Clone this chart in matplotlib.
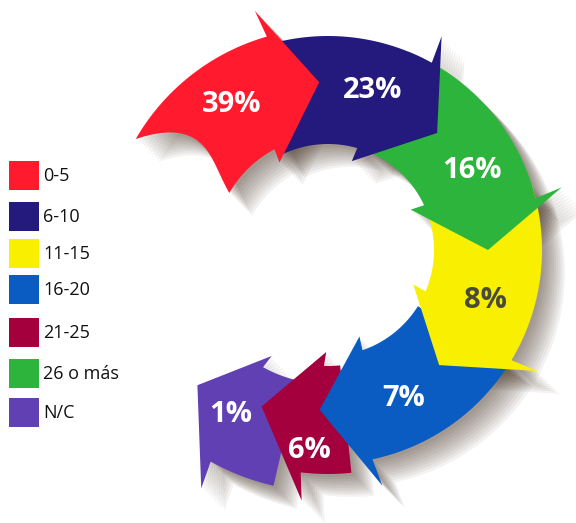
import numpy as np
import matplotlib.pyplot as plt
from matplotlib.patches import Polygon, Rectangle

# data
legend_labels = ['0-5', '6-10', '11-15', '16-20', '21-25', '26 o más', 'N/C']
legend_colors = ['#FF1B2D', '#24197D', '#F8F000', '#0A5CC2', '#A4003E', '#2DB43C', '#6140B4']

ring_pct = [39, 23, 16, 8, 7, 6, 1]
ring_colors = ['#FF1B2D', '#24197D', '#2DB43C', '#F8F000', '#0A5CC2', '#A4003E', '#6140B4']
text_colors = ['white', 'white', 'white', '#4A4A3A', 'white', 'white', 'white']

# layout (image pixels, angles in degrees, clockwise = decreasing)
cx, cy = 328, 250
r_in, r_out = 106, 214
ext_o, ext_i = 28, 14
# tail, outer head base, inner head base, tip, radial shift, tail notch
arc = [(150, 106, 118, 93, 8, 10),
       (116, 61, 74, 47, 0, 0),
       (68, 14, 25, 0, 0, 0),
       (18, -31, -23, -46, 0, 0),
       (-32, -78, -71, -93, 0, 0),
       (-84, -97, -92, -113, 10, 0),
       (-103, -119, -119, -134, 28, 0)]
lab_xy = [(232, 104), (373, 90), (472, 171), (485, 300), (404, 398), (309, 451), (231, 415)]
leg_y = [175, 216, 253, 289, 332, 373, 412]


def pt(r, a):
    t = np.radians(a)
    return cx + r * np.cos(t), cy - r * np.sin(t)


def arrow(a_tail, a_bo, a_bi, a_tip, dr, notch):
    ro, ri = r_out + dr, r_in + dr
    pts = []
    for a in np.linspace(a_tail, a_bo, 40):
        pts.append(pt(ro, a))
    pts.append(pt(ro + ext_o, a_bo + 1))
    pts.append(pt((ri + ro) / 2, a_tip))
    pts.append(pt(ri - ext_i, a_bi + 1))
    for a in np.linspace(a_bi, a_tail, 40):
        pts.append(pt(ri, a))
    # concave tail
    for s in np.linspace(0, 1, 20):
        r = ri + (ro - ri) * s
        a = a_tail - notch * np.sin(np.pi * s)
        pts.append(pt(r, a))
    return np.array(pts)


fig = plt.figure(figsize=(5.76, 5.23), dpi=100)
ax = fig.add_axes([0, 0, 1, 1])
ax.set_xlim(0, 576)
ax.set_ylim(523, 0)
ax.axis('off')

# soft shadow
for k in range(10):
    off = 3 + k * 2.2
    for i, a in enumerate(arc):
        p = arrow(*a) + np.array([off, off])
        ax.add_patch(Polygon(p, closed=True, fc='#3a2818', ec='none',
                             alpha=0.06, zorder=1))

n = len(ring_pct)
for i, a in enumerate(arc):
    ax.add_patch(Polygon(arrow(*a), closed=True, fc=ring_colors[i],
                         ec='none', zorder=10 + (n - i)))
    x, y = lab_xy[i]
    ax.text(x, y, f'{ring_pct[i]}%', ha='center', va='center',
            fontsize=21, fontweight='bold', family=['Open Sans', 'DejaVu Sans'],
            color=text_colors[i], zorder=30)

# legend
for i, (lab, c) in enumerate(zip(legend_labels, legend_colors)):
    y = leg_y[i]
    ax.add_patch(Rectangle((9, y - 14.5), 30, 29, fc=c, ec='none'))
    ax.text(43, y + 1, lab, ha='left', va='center', fontsize=13,
            family=['Open Sans', 'DejaVu Sans'], color='#111111')

fig.savefig('out.png', dpi=100)
